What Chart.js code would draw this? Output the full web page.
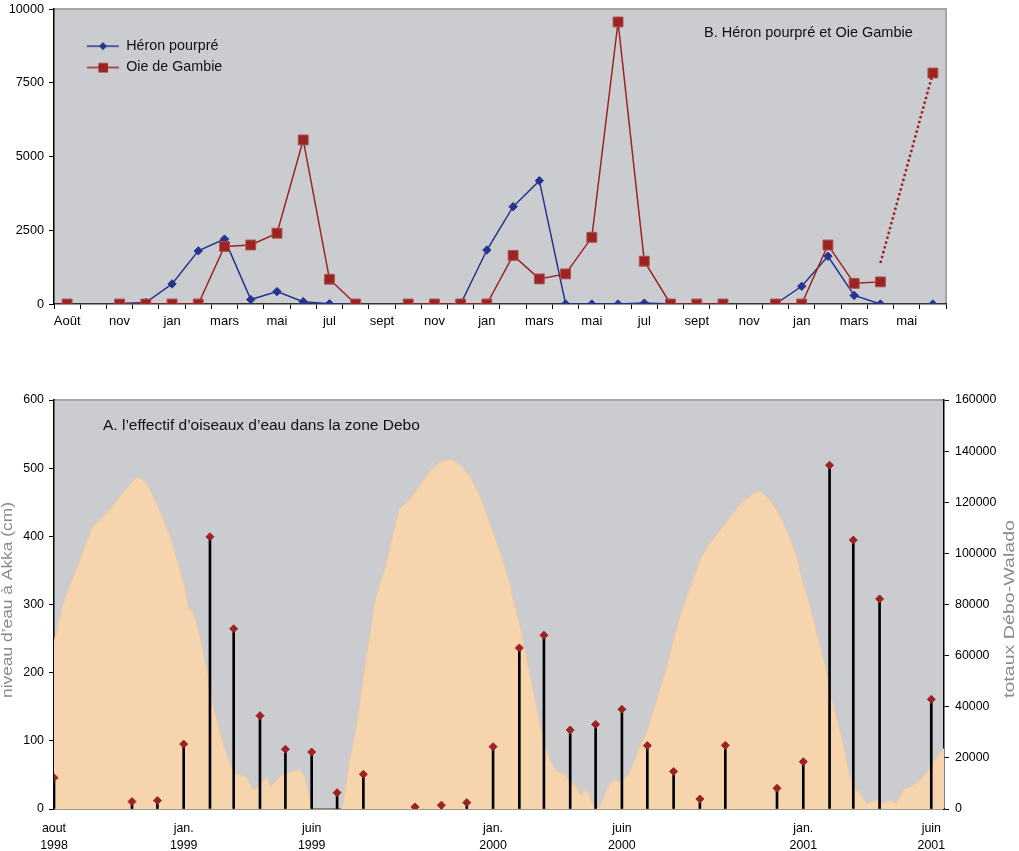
<!DOCTYPE html>
<html><head><meta charset="utf-8">
<script src="https://cdn.jsdelivr.net/npm/chart.js@4.4.1/dist/chart.umd.min.js"></script>
<style>
html,body{margin:0;padding:0;background:#fff;width:1019px;height:851px;overflow:hidden;}
.wrap{position:absolute;left:0;width:1019px;}
</style></head><body>
<div class="wrap" style="top:0;height:340px"><canvas id="top"></canvas></div>
<div class="wrap" style="top:380px;height:471px"><canvas id="bot"></canvas></div>
<script>
// ---------- DATA: top chart (B) ----------
const monthLabels = ['Août','','nov','','jan','','mars','','mai','','jul','','sept','','nov','','jan','','mars','','mai','','jul','','sept','','nov','','jan','','mars','','mai',''];
const heronValues = [null,null,20,50,680,1800,2200,150,420,80,10,0,null,null,null,0,1830,3300,4180,0,0,0,30,0,0,0,null,0,600,1620,290,0,null,0];
const oieValues   = [0,null,0,0,0,0,1950,2000,2400,5560,840,0,null,0,0,0,0,1650,850,1020,2260,9560,1450,0,0,0,null,0,0,2000,700,750,null,7830];
const oieTrend    = [null,null,null,null,null,null,null,null,null,null,null,null,null,null,null,null,null,null,null,null,null,null,null,null,null,null,null,null,null,null,null,1390,null,7830];
const topYTicks = [0,2500,5000,7500,10000];

// ---------- DATA: bottom chart (A) ----------
const levelDates = ['1998-08-01','1998-08-12','1998-09-14','1998-09-16','1998-10-06','1998-10-18','1998-11-03','1998-11-08','1998-11-18','1998-12-02','1998-12-16','1998-12-24','1999-01-03','1999-01-07','1999-01-13','1999-01-21','1999-01-31','1999-02-05','1999-02-13','1999-02-21','1999-02-28','1999-03-04','1999-03-16','1999-03-24','1999-04-01','1999-04-09','1999-04-13','1999-04-21','1999-04-27','1999-05-02','1999-05-10','1999-05-18','1999-05-24','1999-05-30','1999-06-01','1999-07-06','1999-07-08','1999-07-16','1999-07-24','1999-08-01','1999-08-09','1999-08-15','1999-08-28','1999-09-12','1999-09-24','1999-10-06','1999-10-18','1999-10-30','1999-11-11','1999-11-23','1999-12-05','1999-12-17','1999-12-31','2000-01-09','2000-01-21','2000-01-25','2000-02-02','2000-02-14','2000-02-22','2000-02-29','2000-03-08','2000-03-16','2000-03-24','2000-04-01','2000-04-07','2000-04-14','2000-04-20','2000-04-24','2000-04-30','2000-05-06','2000-05-14','2000-05-22','2000-05-30','2000-06-10','2000-06-22','2000-06-30','2000-07-12','2000-07-24','2000-08-05','2000-08-15','2000-08-21','2000-09-01','2000-09-13','2000-09-25','2000-10-07','2000-10-19','2000-11-03','2000-11-11','2000-11-23','2000-12-05','2000-12-17','2000-12-25','2001-01-01','2001-01-09','2001-01-17','2001-01-27','2001-02-02','2001-02-09','2001-02-17','2001-02-25','2001-03-05','2001-03-17','2001-03-29','2001-04-05','2001-04-13','2001-04-21','2001-04-29','2001-05-11','2001-05-23','2001-05-31','2001-06-08','2001-06-16'];
const levels = [245,302,409,414,439,458,483,487,478,443,399,365,321,294,287,248,184,150,111,77,57,52,47,28,35,47,33,43,50,52,55,58,47,13,0,0,8,72,121,194,258,307,360,439,453,473,495,509,513,505,487,458,409,378,331,304,267,194,145,101,72,55,52,40,33,21,30,18,1,3,28,43,40,52,91,111,160,209,267,307,326,365,390,409,429,448,463,466,453,429,395,365,331,297,258,209,169,135,96,47,28,8,13,8,13,8,28,35,47,62,77,89];
const countDates = ['1998-08-01','1998-11-01','1998-12-01','1999-01-01','1999-02-01','1999-03-01','1999-04-01','1999-05-01','1999-06-01','1999-07-01','1999-08-01','1999-10-01','1999-11-01','1999-12-01','2000-01-01','2000-02-01','2000-03-01','2000-04-01','2000-05-01','2000-06-01','2000-07-01','2000-08-01','2000-09-01','2000-10-01','2000-12-01','2001-01-01','2001-02-01','2001-03-01','2001-04-01','2001-06-01'];
const counts = [12250,2900,3300,25400,106500,70500,36500,23400,22300,6400,13600,800,1500,2500,24400,63000,68000,30900,33100,39000,24800,14700,3900,24900,8100,18500,134500,105200,82200,42900];
const xTickDates = ['1998-08-01','1999-01-01','1999-06-01','2000-01-01','2000-06-01','2001-01-01','2001-06-01'];
const xTickLabels = [['aout','1998'],['jan.','1999'],['juin','1999'],['jan.','2000'],['juin','2000'],['jan.','2001'],['juin','2001']];
const startDate = '1998-08-01', endDate = '2001-06-16';

// ---------- helpers ----------
const FAMILY = '"Liberation Sans", Arial, Helvetica, sans-serif';
const BLUE = '#25348E', RED = '#9B2423', PLOT = '#CBCCD0', PEACH = '#F6D5AE';
const day = s => (Date.UTC(+s.slice(0,4), +s.slice(5,7)-1, +s.slice(8,10)) - Date.UTC(1998,7,1)) / 86400000;
const plain = v => String(v);

const plotBg = {
  id: 'plotBg',
  beforeDraw(chart, args, o) {
    const {ctx, chartArea: a} = chart;
    ctx.save();
    ctx.fillStyle = o.color;
    ctx.fillRect(a.left, a.top, a.right - a.left, a.bottom - a.top);
    ctx.strokeStyle = o.border; ctx.lineWidth = 2;
    ctx.beginPath();
    ctx.moveTo(a.left, a.top); ctx.lineTo(a.right, a.top);
    if (o.right) ctx.lineTo(a.right, a.bottom);
    ctx.stroke();
    ctx.restore();
  }
};
const notes = {
  id: 'notes',
  afterDraw(chart, args, o) {
    const ctx = chart.ctx;
    (o.items || []).forEach(it => {
      ctx.save();
      ctx.fillStyle = it.color || '#111';
      ctx.font = it.font;
      ctx.textBaseline = 'middle';
      if (it.rotate) {
        ctx.translate(it.x, it.y);
        ctx.rotate(-Math.PI / 2);
        const w = ctx.measureText(it.text).width;
        const s = it.len ? it.len / w : 1;
        ctx.scale(s, 1);
        ctx.textAlign = 'center';
        ctx.fillText(it.text, 0, 0);
      } else {
        ctx.textAlign = 'left';
        ctx.fillText(it.text, it.x, it.y);
      }
      ctx.restore();
    });
  }
};
function legendIcon(color, shape) {
  const c = document.createElement('canvas');
  c.width = 58; c.height = 14;
  const g = c.getContext('2d');
  g.strokeStyle = color; g.lineWidth = 1.5;
  g.beginPath(); g.moveTo(26, 7); g.lineTo(58, 7); g.stroke();
  g.fillStyle = color;
  if (shape === 'diamond') {
    g.beginPath(); g.moveTo(42, 3); g.lineTo(46, 7); g.lineTo(42, 11); g.lineTo(38, 7); g.closePath(); g.fill();
  } else {
    g.fillRect(37.5, 2.5, 9.5, 9.5);
  }
  return c;
}

// ---------- TOP CHART ----------
new Chart(document.getElementById('top'), {
  type: 'line',
  data: {
    labels: monthLabels,
    datasets: [
      { label: 'Héron pourpré', data: heronValues, borderColor: BLUE, backgroundColor: BLUE, borderWidth: 1.5,
        pointStyle: 'rectRot', pointRadius: 4.2, pointBorderWidth: 1, tension: 0, order: 2 },
      { label: 'Oie de Gambie', data: oieValues, borderColor: RED, backgroundColor: RED, borderWidth: 1.5,
        pointStyle: 'rect', pointRadius: 7, pointBorderColor: '#B05050', pointBorderWidth: 1, tension: 0, order: 1 },
      { label: 'trend', data: oieTrend, borderColor: RED, borderWidth: 2.5, borderDash: [2.5, 2.5],
        pointRadius: 0, spanGaps: true, tension: 0, order: 0 }
    ]
  },
  options: {
    responsive: true, maintainAspectRatio: false, animation: false,
    layout: { padding: { top: 9, right: 73, left: 0, bottom: 0 } },
    scales: {
      x: {
        type: 'category', offset: true,
        grid: { offset: true, drawOnChartArea: false, tickLength: 5, color: '#000', lineWidth: 1 },
        border: { color: '#333', width: 1.5 },
        ticks: { autoSkip: false, maxRotation: 0, minRotation: 0, color: '#000', padding: 5, font: { family: FAMILY, size: 13 } },
        afterFit: s => { s.height = 36; }
      },
      y: {
        min: 0, max: 10000,
        afterBuildTicks: s => { s.ticks = topYTicks.map(v => ({ value: v })); },
        grid: { drawOnChartArea: false, tickLength: 5, color: '#000' },
        border: { color: '#000', width: 1.5 },
        ticks: { color: '#000', padding: 5, font: { family: FAMILY, size: 12.7 }, callback: plain },
        afterFit: s => { s.width = 54; s.paddingTop = 0; s.paddingBottom = 0; }
      }
    },
    plugins: {
      tooltip: { enabled: false },
      plotBg: { color: PLOT, border: '#A4A5A8', right: true },
      legend: {
        position: 'chartArea', align: 'start',
        title: { display: true, text: '', font: { size: 10 }, padding: { top: 10, bottom: 10 } },
        labels: {
          usePointStyle: true, pointStyleWidth: 58, padding: 7, color: '#111',
          font: { family: FAMILY, size: 14.3 },
          generateLabels: () => [
            { text: 'Héron pourpré', fontColor: '#111', pointStyle: legendIcon(BLUE, 'diamond'), fillStyle: BLUE, strokeStyle: BLUE, lineWidth: 0, hidden: false, datasetIndex: 0 },
            { text: 'Oie de Gambie', fontColor: '#111', pointStyle: legendIcon(RED, 'square'), fillStyle: RED, strokeStyle: RED, lineWidth: 0, hidden: false, datasetIndex: 1 }
          ]
        }
      },
      notes: { items: [ { text: 'B. Héron pourpré et Oie Gambie', x: 704, y: 33, font: '14.5px ' + FAMILY, color: '#111' } ] }
    }
  },
  plugins: [plotBg, notes]
});

// ---------- BOTTOM CHART ----------
const levelPts = levelDates.map((d, i) => ({ x: day(d), y: levels[i] }));
const countPts = countDates.map((d, i) => ({ x: day(d), y: counts[i] }));
new Chart(document.getElementById('bot'), {
  type: 'line',
  data: {
    datasets: [
      { type: 'line', label: 'totaux', data: countPts, yAxisID: 'y2', showLine: false,
        pointStyle: 'rectRot', pointRadius: 4, backgroundColor: RED, borderColor: RED, pointBorderWidth: 1, order: 0 },
      { type: 'bar', label: 'stems', data: countPts, yAxisID: 'y2', backgroundColor: '#000', barThickness: 2, order: 1 },
      { type: 'line', label: 'niveau', data: levelPts, yAxisID: 'y', fill: 'origin', backgroundColor: PEACH,
        borderColor: '#F0C9A0', borderWidth: 1, pointRadius: 0, tension: 0, order: 2 }
    ]
  },
  options: {
    responsive: true, maintainAspectRatio: false, animation: false,
    layout: { padding: { top: 20, right: 0, left: 0, bottom: 0 } },
    scales: {
      x: {
        type: 'linear', offset: false, min: day(startDate), max: day(endDate),
        afterBuildTicks: s => { s.ticks = xTickDates.map(d => ({ value: day(d) })); },
        grid: { display: false, drawTicks: false },
        border: { color: '#333', width: 1.5 },
        ticks: { color: '#000', padding: 11, maxRotation: 0, autoSkip: false,
          font: { family: FAMILY, size: 12.4, lineHeight: 1.35 },
          callback: (v, i) => xTickLabels[i] },
        afterFit: s => { s.height = 42; }
      },
      y: {
        position: 'left', min: 0, max: 600,
        ticks: { stepSize: 100, color: '#000', padding: 5, font: { family: FAMILY, size: 12.4 }, callback: plain },
        grid: { drawOnChartArea: false, tickLength: 5, color: '#000' },
        border: { color: '#000', width: 1.5 },
        afterFit: s => { s.width = 54; }
      },
      y2: {
        position: 'right', min: 0, max: 160000,
        ticks: { stepSize: 20000, color: '#000', padding: 6, font: { family: FAMILY, size: 12.4 }, callback: plain },
        grid: { drawOnChartArea: false, tickLength: 5, color: '#000' },
        border: { color: '#000', width: 1.5 },
        afterFit: s => { s.width = 75; }
      }
    },
    plugins: {
      tooltip: { enabled: false },
      legend: { display: false },
      plotBg: { color: PLOT, border: '#A4A5A8', right: false },
      notes: { items: [
        { text: 'A. l’effectif d’oiseaux d’eau dans la zone Debo', x: 103, y: 46, font: '15.5px ' + FAMILY, color: '#111' },
        { text: 'niveau d’eau à Akka (cm)', x: 8.5, y: 220, rotate: true, len: 196, font: '14px ' + FAMILY, color: '#8A8A8A' },
        { text: 'totaux Débo-Walado', x: 1010.5, y: 229, rotate: true, len: 178, font: '14px ' + FAMILY, color: '#8A8A8A' }
      ] }
    }
  },
  plugins: [plotBg, notes]
});
</script>
</body></html>
